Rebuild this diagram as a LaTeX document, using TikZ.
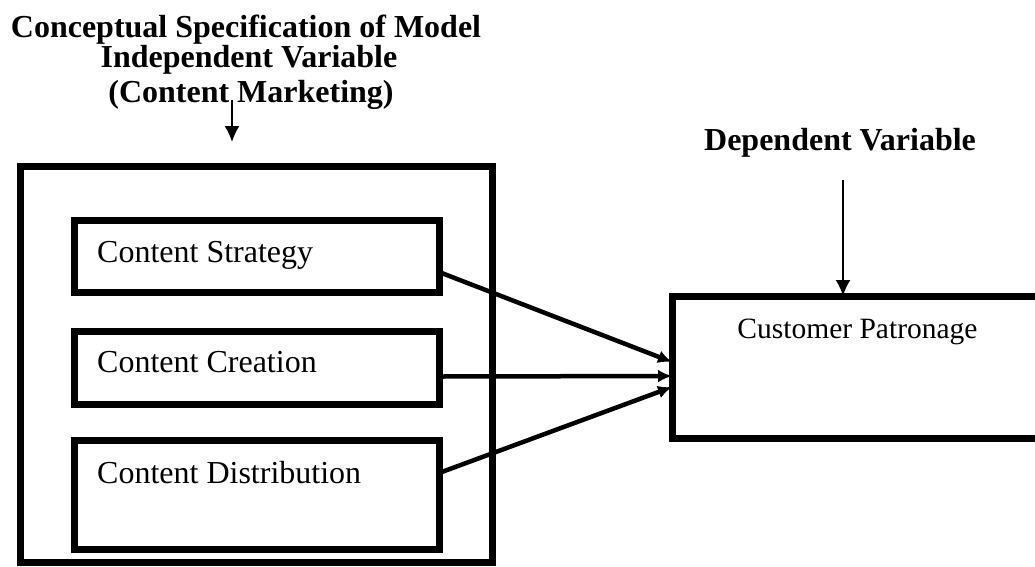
\documentclass[tikz,border=0pt]{standalone}
\usepackage{fontspec}
\setmainfont{Liberation Serif}
\usetikzlibrary{arrows.meta}
\begin{document}
\begin{tikzpicture}[x=1pt,y=-1pt,
  frame/.style={draw=black,line width=7pt,outer sep=0pt,inner sep=0pt,rectangle},
  heading/.style={inner sep=0pt,anchor=base,font=\fontsize{32pt}{36pt}\selectfont\bfseries},
  itemtext/.style={inner sep=0pt,anchor=base west,font=\fontsize{32pt}{36pt}\selectfont},
  flow/.style={line width=4.5pt,-{Latex[length=14pt,width=13pt]}},
  pointer/.style={line width=2pt,-{Latex[length=16pt,width=15pt]}}]
\useasboundingbox (0,0) rectangle (1035,566);
\clip (0,0) rectangle (1035,566);

% headings
\node[heading] (h1) at (246,37) {Conceptual Specification of Model};
\node[heading] (h2) at (249,67) {Independent Variable};
\node[heading] (h3) at (251,102) {(Content Marketing)};
\node[heading] (hd) at (840,150) {Dependent Variable};

% independent variable block
\node[frame,minimum width=472pt,minimum height=396pt] (outer) at (256,364) {};
\node[frame,minimum width=365pt,minimum height=72pt] (strat) at (256.5,256) {};
\node[frame,minimum width=365pt,minimum height=73pt] (creat) at (256.5,367.5) {};
\node[frame,minimum width=365pt,minimum height=109pt] (distr) at (256.5,494.5) {};
\node[itemtext] (tstrat) at (97,262) {Content Strategy};
\node[itemtext] (tcreat) at (97,372) {Content Creation};
\node[itemtext] (tdistr) at (97,483) {Content Distribution};

% dependent variable block
\node[frame,minimum width=373pt,minimum height=142pt] (cust) at (858.5,367) {};
\node[inner sep=0pt,anchor=base,font=\fontsize{29.5pt}{34pt}\selectfont] (tcust) at (857.5,338) {Customer Patronage};

% pointers from the headings
\coordinate (ia) at (232,100);
\coordinate (ib) at (232,142);
\draw[pointer] (ia) -- (ib);
\coordinate (da) at (843,180);
\draw[pointer] (da) -- ([xshift=-15.5pt]cust.north);

% influences
\draw[flow] ([yshift=-16pt]strat.east) -- ([yshift=5pt]cust.west);
\draw[flow] ([yshift=-9pt]creat.east) -- ([yshift=-9pt]cust.west);
\draw[flow] ([yshift=21.5pt]distr.east) -- ([yshift=-20pt]cust.west);
\end{tikzpicture}
\end{document}
